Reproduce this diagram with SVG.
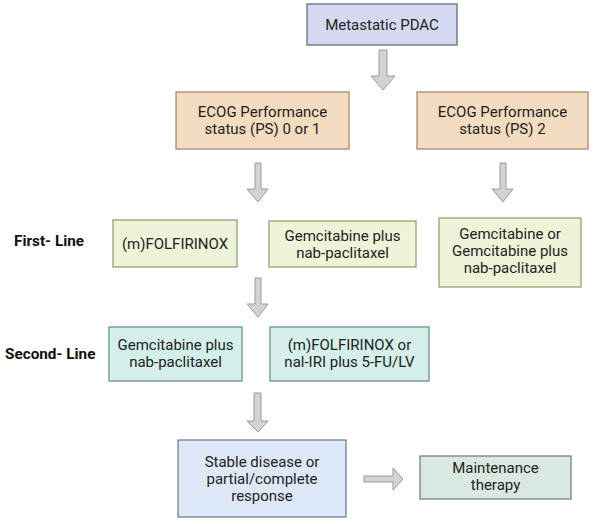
<svg xmlns="http://www.w3.org/2000/svg" width="594" height="524" viewBox="0 0 594 524">
<style>
text{font-family:Roboto,"Liberation Sans",sans-serif;font-size:15px;fill:#222;text-anchor:middle}
.lbl{font-weight:bold;font-size:15.3px;text-anchor:start;fill:#111}
.box{stroke-width:1.2}
.pdac{fill:#d6daf0;stroke:#5c5f7c}
.ecog{fill:#f4dcc0;stroke:#9d8466}
.first{fill:#eef4d8;stroke:#8c9a6a}
.second{fill:#d5efeb;stroke:#5e8a84}
.stable{fill:#dde9f8;stroke:#6b7684}
.maint{fill:#d9e9e2;stroke:#6c7a74}
.arr{fill:#d3d3d5;stroke:#9a9a9e;stroke-width:1}
</style>
<rect width="594" height="524" fill="#fff"/>
<g id="connectors">
<path class="arr" d="M379,50 H387 V76 H395 L383,90 L371,76 H379 Z"/>
<path class="arr" d="M255,163 H261 V189 H268 L258,202 L247,189 H255 Z"/>
<path class="arr" d="M500,163 H506 V189 H513 L503,202 L492,189 H500 Z"/>
<path class="arr" d="M255,278 H261 V304 H268 L258,317 L247,304 H255 Z"/>
<path class="arr" d="M254,393 H261 V421 H268 L258,432 L247,421 H254 Z"/>
<path class="arr" d="M364,476 H393 V468 L403,479 L393,490 V482 H364 Z"/>
</g>
<g id="label-first"><text class="lbl" x="14" y="246">First- Line</text></g>
<g id="label-second"><text class="lbl" x="5" y="359">Second- Line</text></g>
<g id="pdac"><rect class="box pdac" x="307" y="4" width="150" height="41"/><text x="382" y="30">Metastatic PDAC</text></g>
<g id="ecog01"><rect class="box ecog" x="176" y="92" width="173" height="57"/><text x="262.5" y="117">ECOG Performance</text><text x="262.5" y="134">status (PS) 0 or 1</text></g>
<g id="ecog2"><rect class="box ecog" x="417" y="92" width="171" height="57"/><text x="502.5" y="117">ECOG Performance</text><text x="502.5" y="134">status (PS) 2</text></g>
<g id="folfirinox1"><rect class="box first" x="113" y="220" width="124" height="47"/><text x="175" y="249">(m)FOLFIRINOX</text></g>
<g id="gem-nab1"><rect class="box first" x="269" y="221" width="147" height="46"/><text x="342.5" y="241">Gemcitabine plus</text><text x="342.5" y="258">nab-paclitaxel</text></g>
<g id="gem-ps2"><rect class="box first" x="439" y="218" width="142" height="69"/><text x="510" y="239">Gemcitabine or</text><text x="510" y="256">Gemcitabine plus</text><text x="510" y="273">nab-paclitaxel</text></g>
<g id="gem-nab2"><rect class="box second" x="109" y="327" width="133" height="54"/><text x="175.5" y="350">Gemcitabine plus</text><text x="175.5" y="367">nab-paclitaxel</text></g>
<g id="folfirinox2"><rect class="box second" x="270" y="327" width="159" height="54"/><text x="349.5" y="350">(m)FOLFIRINOX or</text><text x="349.5" y="367">nal-IRI plus 5-FU/LV</text></g>
<g id="stable"><rect class="box stable" x="178" y="440" width="168" height="77"/><text x="262" y="467">Stable disease or</text><text x="262" y="484">partial/complete</text><text x="262" y="501">response</text></g>
<g id="maintenance"><rect class="box maint" x="420" y="456" width="151" height="43"/><text x="495.5" y="473">Maintenance</text><text x="495.5" y="490">therapy</text></g>
</svg>
